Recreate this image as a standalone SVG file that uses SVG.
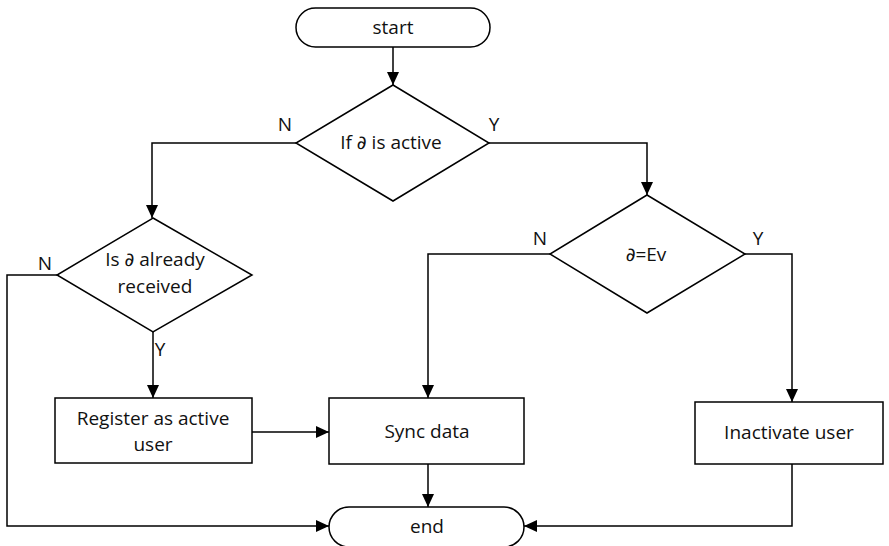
<svg xmlns="http://www.w3.org/2000/svg" width="889" height="546" viewBox="0 0 889 546">
<defs>
<style>
.s{fill:#fff;stroke:#000;stroke-width:1.5}
.t{font-family:"Open Sans","Noto Sans",sans-serif;font-size:19px;fill:#111;text-anchor:middle}
.d{font-family:"DejaVu Sans",sans-serif}
.c{fill:none;stroke:#000;stroke-width:1.5}
</style>
<marker id="a" markerWidth="14" markerHeight="12" refX="13" refY="6" orient="auto" markerUnits="userSpaceOnUse">
<path d="M0,0 L13,6 L0,12 Z" fill="#000"/>
</marker>
</defs>
<rect width="889" height="546" fill="#fff"/>
<g id="connectors">
<path class="c" d="M393,47 V85" marker-end="url(#a)"/>
<path class="c" d="M296,143 H152 V218" marker-end="url(#a)"/>
<path class="c" d="M489,143 H647 V195" marker-end="url(#a)"/>
<path class="c" d="M57,275 H7 V526 H329" marker-end="url(#a)"/>
<path class="c" d="M153,332 V398" marker-end="url(#a)"/>
<path class="c" d="M252,432 H329" marker-end="url(#a)"/>
<path class="c" d="M550,254 H428 V398" marker-end="url(#a)"/>
<path class="c" d="M745,254 H792 V402" marker-end="url(#a)"/>
<path class="c" d="M428,464 V507" marker-end="url(#a)"/>
<path class="c" d="M792,464 V526 H524" marker-end="url(#a)"/>
</g>
<g id="start">
<rect class="s" x="296" y="8" width="194" height="39" rx="19.5"/>
<text class="t" x="393" y="34">start</text>
</g>
<g id="d1">
<polygon class="s" points="393,85 489,143 393,201 296,143"/>
<text class="t" x="391" y="149">If <tspan class="d">∂</tspan> is active</text>
<text class="t" x="285" y="131">N</text>
<text class="t" x="494" y="131">Y</text>
</g>
<g id="d2">
<polygon class="s" points="153,218 252,275 153,332 57,275"/>
<text class="t" x="155" y="266">Is <tspan class="d">∂</tspan> already</text>
<text class="t" x="155" y="293">received</text>
<text class="t" x="45" y="270">N</text>
<text class="t" x="160" y="356">Y</text>
</g>
<g id="d3">
<polygon class="s" points="647,195 745,254 647,313 550,254"/>
<text class="t" x="646" y="261"><tspan class="d">∂</tspan>=Ev</text>
<text class="t" x="540" y="245">N</text>
<text class="t" x="758" y="245">Y</text>
</g>
<g id="register">
<rect class="s" x="55" y="398" width="197" height="65"/>
<text class="t" x="153" y="425">Register as active</text>
<text class="t" x="153" y="451">user</text>
</g>
<g id="sync">
<rect class="s" x="329" y="398" width="195" height="66"/>
<text class="t" x="427" y="438">Sync data</text>
</g>
<g id="inactivate">
<rect class="s" x="695" y="402" width="188" height="62"/>
<text class="t" x="789" y="439">Inactivate user</text>
</g>
<g id="end">
<rect class="s" x="329" y="507" width="195" height="40" rx="20"/>
<text class="t" x="427" y="533">end</text>
</g>
</svg>
